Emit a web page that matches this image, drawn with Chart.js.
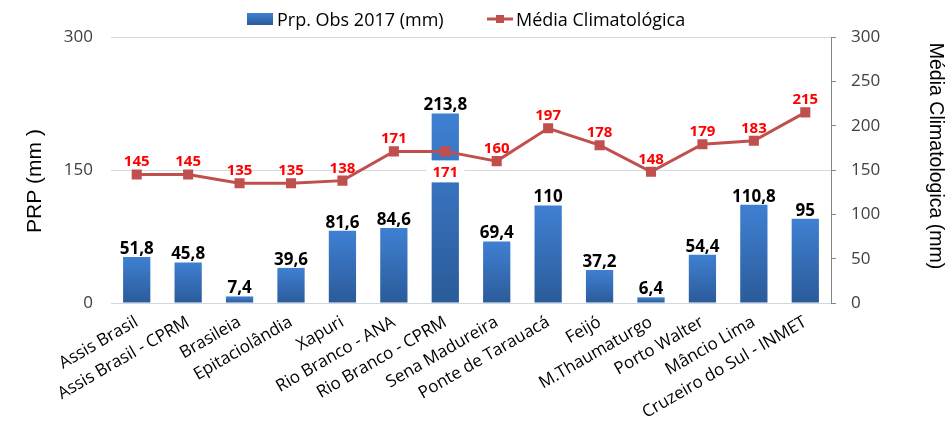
<!DOCTYPE html>
<html>
<head>
<meta charset="utf-8">
<script src="https://cdn.jsdelivr.net/npm/chart.js@4.4.1/dist/chart.umd.min.js"></script>
<style>
  html, body { margin: 0; padding: 0; background: #fff; }
  #wrap { width: 950px; height: 428px; }
</style>
</head>
<body>
<div id="wrap"><canvas id="grafico" width="950" height="428"></canvas></div>
<script>
// dados
const estacoes = [
  'Assis Brasil', 'Assis Brasil - CPRM', 'Brasileia', 'Epitaciolândia', 'Xapuri',
  'Rio Branco - ANA', 'Rio Branco - CPRM', 'Sena Madureira', 'Ponte de Tarauacá', 'Feijó',
  'M.Thaumaturgo', 'Porto Walter', 'Mâncio Lima', 'Cruzeiro do Sul - INMET'
];
const prpObs2017 = [51.8, 45.8, 7.4, 39.6, 81.6, 84.6, 213.8, 69.4, 110, 37.2, 6.4, 54.4, 110.8, 95];
const mediaClimatologica = [145, 145, 135, 135, 138, 171, 171, 160, 197, 178, 148, 179, 183, 215];
const ticksEsquerda = [0, 150, 300];
const ticksDireita = [0, 50, 100, 150, 200, 250, 300];

const AZUL_TOPO = '#3f80d3';
const AZUL_BASE = '#2b5b99';
const VERMELHO = '#c0504d';
const FONTE = '"Open Sans"';

const fmt = v => String(v).replace('.', ',');

function gradBarra(ctx) {
  const chart = ctx.chart;
  const y = chart.scales.y;
  if (!chart.chartArea || !y || ctx.type !== 'data') return '#3670bd';
  const topo = y.getPixelForValue(ctx.raw);
  const base = y.getPixelForValue(0);
  if (!isFinite(topo) || topo === base) return AZUL_TOPO;
  const g = chart.ctx.createLinearGradient(0, topo, 0, base);
  g.addColorStop(0, AZUL_TOPO);
  g.addColorStop(1, AZUL_BASE);
  return g;
}

// legenda, títulos dos eixos e rótulos de dados
const extras = {
  id: 'extras',
  afterDatasetsDraw(chart) {
    const c = chart.ctx;
    const barras = chart.getDatasetMeta(0).data;
    const pontos = chart.getDatasetMeta(1).data;
    c.save();
    c.textAlign = 'center';
    c.textBaseline = 'alphabetic';

    c.font = 'bold 17px ' + FONTE;
    c.fillStyle = '#000';
    barras.forEach((b, i) => c.fillText(fmt(prpObs2017[i]), b.x, b.y - 3));

    c.font = 'bold 15px ' + FONTE;
    pontos.forEach((p, i) => {
      const txt = fmt(mediaClimatologica[i]);
      if (i === 6) {
        c.fillStyle = '#fff';
        c.fillRect(p.x - 19, p.y + 9, 38, 22);
        c.fillStyle = '#ff0000';
        c.fillText(txt, p.x, p.y + 26);
      } else {
        c.fillStyle = '#ff0000';
        c.fillText(txt, p.x, p.y - 8);
      }
    });
    c.restore();
  },
  afterDraw(chart) {
    const c = chart.ctx;
    c.save();
    // legenda
    const g = c.createLinearGradient(0, 13, 0, 25);
    g.addColorStop(0, AZUL_TOPO);
    g.addColorStop(1, AZUL_BASE);
    c.fillStyle = g;
    c.fillRect(247, 13, 26, 12);
    c.font = '18px ' + FONTE;
    c.fillStyle = '#000';
    c.textBaseline = 'alphabetic';
    c.textAlign = 'left';
    c.fillText(chart.data.datasets[0].label, 277, 26);
    c.strokeStyle = VERMELHO;
    c.lineWidth = 3;
    c.beginPath();
    c.moveTo(487, 19);
    c.lineTo(513, 19);
    c.stroke();
    c.fillStyle = VERMELHO;
    c.fillRect(496, 15, 8, 8);
    c.fillStyle = '#000';
    c.fillText(chart.data.datasets[1].label, 516, 26);

    // títulos dos eixos
    c.textAlign = 'center';
    c.textBaseline = 'middle';
    c.font = '21px "Liberation Sans"';
    c.save();
    c.translate(35, 181);
    c.rotate(-Math.PI / 2);
    c.fillText('PRP (mm )', 0, 0);
    c.restore();
    c.font = '19.5px "Liberation Sans"';
    c.save();
    c.translate(935, 156);
    c.rotate(Math.PI / 2);
    c.fillText('Média Climatologica (mm)', 0, 0);
    c.restore();
    c.restore();
  }
};

new Chart(document.getElementById('grafico'), {
  type: 'bar',
  data: {
    labels: estacoes,
    datasets: [
      {
        type: 'bar',
        label: 'Prp. Obs 2017 (mm)',
        data: prpObs2017,
        yAxisID: 'y',
        backgroundColor: gradBarra,
        barPercentage: 0.53,
        categoryPercentage: 1,
        order: 2
      },
      {
        type: 'line',
        label: 'Média Climatológica',
        data: mediaClimatologica,
        yAxisID: 'y1',
        borderColor: VERMELHO,
        backgroundColor: VERMELHO,
        borderWidth: 3,
        pointStyle: 'rect',
        pointRadius: 5,
        pointHoverRadius: 5,
        tension: 0,
        order: 1
      }
    ]
  },
  options: {
    responsive: false,
    animation: false,
    devicePixelRatio: 1,
    layout: { padding: { top: 37, left: 0, right: 0, bottom: 0 } },
    plugins: {
      legend: { display: false },
      title: { display: false },
      tooltip: { enabled: false }
    },
    scales: {
      x: {
        grid: { display: false, drawTicks: false },
        border: { color: '#cfd7e1', width: 1 },
        ticks: {
          minRotation: 30,
          maxRotation: 30,
          autoSkip: false,
          padding: 9,
          color: '#000',
          font: { family: 'Open Sans', size: 17 }
        },
        afterFit(s) { s.height = 125; }
      },
      y: {
        position: 'left',
        min: 0,
        max: 300,
        afterBuildTicks(s) { s.ticks = ticksEsquerda.map(v => ({ value: v })); },
        grid: { color: '#d9d9d9', drawTicks: false },
        border: { display: false },
        ticks: { padding: 18, color: '#404040', font: { family: 'Open Sans', size: 17 } },
        afterFit(s) { s.width = 111; }
      },
      y1: {
        position: 'right',
        min: 0,
        max: 300,
        afterBuildTicks(s) { s.ticks = ticksDireita.map(v => ({ value: v })); },
        grid: { drawOnChartArea: false, drawTicks: true, tickLength: 5, color: '#868686' },
        border: { display: true, color: '#868686' },
        ticks: { padding: 15, color: '#404040', font: { family: 'Open Sans', size: 17 } },
        afterFit(s) { s.width = 119; }
      }
    }
  },
  plugins: [extras]
});
</script>
</body>
</html>
